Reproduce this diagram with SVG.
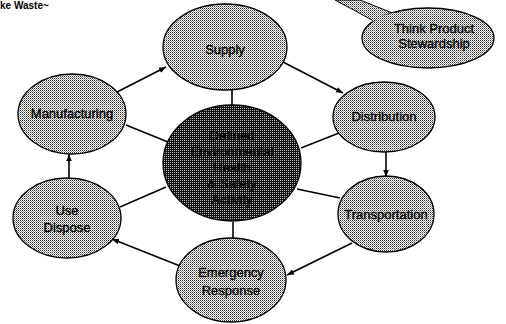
<svg xmlns="http://www.w3.org/2000/svg" width="506" height="324" viewBox="0 0 506 324">
<defs>
<pattern id="lt" width="2" height="2" patternUnits="userSpaceOnUse">
<rect width="2" height="2" fill="#ffffff"/>
<rect width="1" height="1" fill="#333"/>
<rect x="1" y="1" width="1" height="1" fill="#999"/>
</pattern>
<pattern id="dk" width="2" height="2" patternUnits="userSpaceOnUse">
<rect width="2" height="2" fill="#111"/>
<rect width="1" height="1" fill="#bbb"/>
</pattern>
<marker id="ah" viewBox="0 0 10 10" refX="10" refY="5" markerWidth="7" markerHeight="7" orient="auto" markerUnits="userSpaceOnUse">
<path d="M0,1 L10,5 L0,9 Z" fill="#000"/>
</marker>
</defs>
<style>
.n{fill:url(#lt);stroke:#000;stroke-width:1.3}
.c{fill:url(#dk);stroke:#000;stroke-width:1.3}
.t{font-family:"Liberation Sans",Arial,sans-serif;font-size:13px;fill:#000;stroke:#000;stroke-width:0.35;text-anchor:middle}
.l{stroke:#000;stroke-width:1.6;fill:none}
.a{stroke:#000;stroke-width:1.6;fill:none;marker-end:url(#ah)}
</style>
<rect width="506" height="324" fill="#fff"/>
<text x="0" y="9" style="font-family:'Liberation Sans',Arial,sans-serif;font-size:10px;font-weight:bold;fill:#000">ke Waste~</text>
<g id="connectors">
<line class="l" x1="232" y1="90" x2="232" y2="105"/>
<line class="l" x1="126" y1="125" x2="168" y2="142"/>
<line class="l" x1="301" y1="148" x2="339" y2="133"/>
<line class="l" x1="297" y1="189" x2="340" y2="198"/>
<line class="l" x1="233" y1="222" x2="233" y2="238"/>
<line class="l" x1="166" y1="187" x2="120" y2="207"/>
<line class="a" x1="117" y1="92" x2="166" y2="67"/>
<line class="a" x1="283" y1="62" x2="343" y2="93"/>
<line class="a" x1="386" y1="152" x2="386" y2="177"/>
<line class="a" x1="352" y1="243" x2="287" y2="275"/>
<line class="a" x1="180" y1="266" x2="112" y2="239"/>
<line class="a" x1="69" y1="178" x2="69" y2="154"/>
</g>
<g id="callout">
<path d="M335,0 L360,0 L395,14 L372,20 Z" fill="url(#lt)" stroke="#000" stroke-width="1"/>
<ellipse cx="428" cy="38" rx="66" ry="30" class="n"/>
<path d="M372,20 L395,14" stroke="url(#lt)" stroke-width="3"/>
<text class="t" x="434" y="33">Think Product</text>
<text class="t" x="434" y="48">Stewardship</text>
</g>
<g id="supply">
<ellipse cx="225" cy="47" rx="62" ry="43" class="n"/>
<text class="t" x="225" y="54">Supply</text>
</g>
<g id="distribution">
<ellipse cx="384" cy="117" rx="51" ry="35" class="n"/>
<text class="t" x="384" y="121">Distribution</text>
</g>
<g id="transportation">
<ellipse cx="386" cy="214" rx="48" ry="38" class="n"/>
<text class="t" x="386" y="219">Transportation</text>
</g>
<g id="emergency">
<ellipse cx="231" cy="280" rx="55" ry="42" class="n"/>
<text class="t" x="231" y="277">Emergency</text>
<text class="t" x="231" y="295">Response</text>
</g>
<g id="use-dispose">
<ellipse cx="67" cy="218" rx="54" ry="40" class="n"/>
<text class="t" x="67" y="215">Use</text>
<text class="t" x="67" y="232">Dispose</text>
</g>
<g id="manufacturing">
<ellipse cx="72" cy="114" rx="54" ry="40" class="n"/>
<text class="t" x="72" y="118">Manufacturing</text>
</g>
<g id="center">
<ellipse cx="232" cy="163" rx="69" ry="58" class="c"/>
<text class="t" x="232" y="140">Defined</text>
<text class="t" x="232" y="156">Environmental</text>
<text class="t" x="232" y="172">Health</text>
<text class="t" x="232" y="188">&amp; Safety</text>
<text class="t" x="232" y="204">Activity</text>
</g>
</svg>
